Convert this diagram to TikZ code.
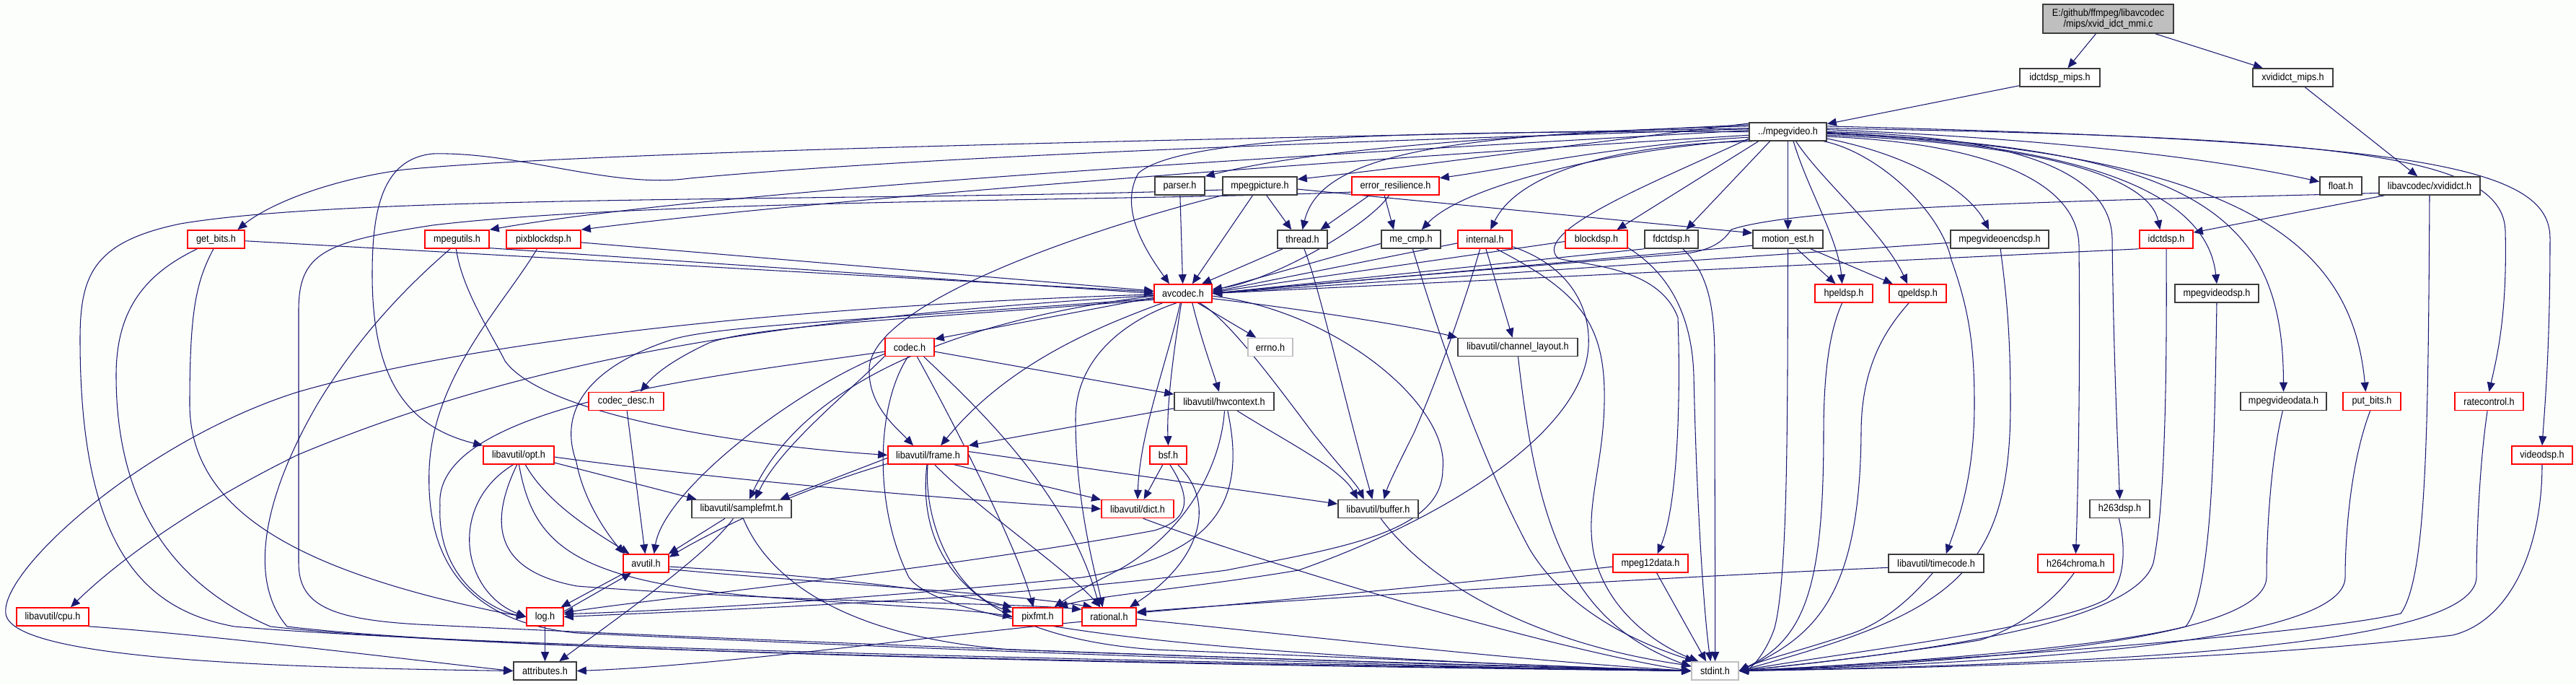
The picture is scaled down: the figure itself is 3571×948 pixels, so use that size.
\documentclass[tikz,border=0pt]{standalone}
\usepackage{fontspec}
\newfontfamily\dxfam{Liberation Sans}[FakeStretch=0.9]
\usetikzlibrary{arrows.meta}
\definecolor{edgec}{RGB}{25,25,112}
\definecolor{redc}{RGB}{255,0,0}
\definecolor{blkc}{RGB}{60,60,60}
\definecolor{gryc}{RGB}{191,191,191}
\definecolor{bgc}{RGB}{252,254,252}
\pgfdeclarelayer{bg}
\pgfsetlayers{bg,main}
\tikzset{
  basebox/.style={draw, line width=0.45pt, fill=white, inner sep=0pt, minimum height=0.25cm, font=\dxfam\fontsize{4}{4.3}\selectfont},
  redbox/.style={basebox, draw=redc},
  blkbox/.style={basebox, draw=blkc},
  grybox/.style={basebox, draw=gryc},
  rootbox/.style={basebox, draw=blkc, fill=gryc, align=center, minimum height=0.40cm},
  edg/.style={draw=edgec, line width=0.3pt, -{Triangle[length=0.13cm,width=0.11cm]}}
}
\begin{document}
\begin{tikzpicture}[x=0.01cm,y=-0.01cm]
\useasboundingbox (0,0) rectangle (3571,948);
% nodes
\node[rootbox, minimum width=1.81cm] (root) at (2922.5,26) {E:/github/ffmpeg/libavcodec\\/mips/xvid\_idct\_mmi.c};
\node[blkbox, minimum width=1.11cm] (idm) at (2855.5,107.5) {idctdsp\_mips.h};
\node[blkbox, minimum width=1.11cm] (xvm) at (3178.5,107.5) {xvididct\_mips.h};
\node[blkbox, minimum width=1.07cm] (mv) at (2478.5,182.5) {../mpegvideo.h};
\node[blkbox, minimum width=0.69cm] (parser) at (1635.5,257.5) {parser.h};
\node[blkbox, minimum width=1.03cm] (mpic) at (1746.5,257.5) {mpegpicture.h};
\node[redbox, minimum width=1.21cm] (er) at (1934.5,257.5) {error\_resilience.h};
\node[blkbox, minimum width=0.58cm] (flt) at (3245,257.5) {float.h};
\node[blkbox, minimum width=1.40cm] (xvi) at (3368,257.5) {libavcodec/xvididct.h};
\node[redbox, minimum width=0.79cm] (gb) at (299.5,331.5) {get\_bits.h};
\node[redbox, minimum width=0.89cm] (mu) at (633.5,331.5) {mpegutils.h};
\node[redbox, minimum width=1.03cm] (pb) at (753.5,331.5) {pixblockdsp.h};
\node[blkbox, minimum width=0.69cm] (th) at (1805.5,331.5) {thread.h};
\node[blkbox, minimum width=0.82cm] (mc) at (1956,331.5) {me\_cmp.h};
\node[redbox, minimum width=0.75cm] (intl) at (2058.5,331.5) {internal.h};
\node[redbox, minimum width=0.86cm] (bd) at (2213,331.5) {blockdsp.h};
\node[blkbox, minimum width=0.74cm] (fd) at (2317,331.5) {fdctdsp.h};
\node[blkbox, minimum width=0.97cm] (me) at (2478.5,331.5) {motion\_est.h};
\node[blkbox, minimum width=1.36cm] (ve) at (2772,331.5) {mpegvideoencdsp.h};
\node[redbox, minimum width=0.74cm] (id) at (3003,331.5) {idctdsp.h};
\node[redbox, minimum width=0.80cm] (ac) at (1640,406.5) {avcodec.h};
\node[redbox, minimum width=0.80cm] (hp) at (2556,406.5) {hpeldsp.h};
\node[redbox, minimum width=0.79cm] (qp) at (2658.5,406.5) {qpeldsp.h};
\node[blkbox, minimum width=1.16cm] (mvd) at (3073,406.5) {mpegvideodsp.h};
\node[redbox, minimum width=0.68cm] (codec) at (1261,481) {codec.h};
\node[grybox, minimum width=0.62cm] (errno) at (1761,481) {errno.h};
\node[blkbox, minimum width=1.66cm] (chl) at (2104,481) {libavutil/channel\_layout.h};
\node[redbox, minimum width=1.04cm] (cdesc) at (868,556) {codec\_desc.h};
\node[blkbox, minimum width=1.38cm] (hw) at (1697,556) {libavutil/hwcontext.h};
\node[blkbox, minimum width=1.19cm] (mvdata) at (3165.5,556) {mpegvideodata.h};
\node[redbox, minimum width=0.80cm] (pbits) at (3288,556) {put\_bits.h};
\node[redbox, minimum width=0.95cm] (rc) at (3450.5,556) {ratecontrol.h};
\node[redbox, minimum width=0.98cm] (opt) at (719,630.5) {libavutil/opt.h};
\node[redbox, minimum width=1.11cm] (frame) at (1286.5,630.5) {libavutil/frame.h};
\node[redbox, minimum width=0.51cm] (bsf) at (1619.5,630.5) {bsf.h};
\node[redbox, minimum width=0.84cm] (vdsp) at (3524,630.5) {videodsp.h};
\node[blkbox, minimum width=1.38cm] (sfmt) at (1028,705) {libavutil/samplefmt.h};
\node[redbox, minimum width=1.00cm] (dict) at (1577,705) {libavutil/dict.h};
\node[blkbox, minimum width=1.11cm] (buf) at (1910.5,705) {libavutil/buffer.h};
\node[blkbox, minimum width=0.83cm] (h263) at (2938.5,705) {h263dsp.h};
\node[redbox, minimum width=0.63cm] (avu) at (895.5,780.5) {avutil.h};
\node[redbox, minimum width=1.04cm] (m12) at (2288,780.5) {mpeg12data.h};
\node[blkbox, minimum width=1.32cm] (tc) at (2684,780.5) {libavutil/timecode.h};
\node[redbox, minimum width=1.05cm] (h264) at (2877.5,780.5) {h264chroma.h};
\node[redbox, minimum width=1.00cm] (cpu) at (73,854.5) {libavutil/cpu.h};
\node[redbox, minimum width=0.51cm] (log) at (755.5,854.5) {log.h};
\node[redbox, minimum width=0.69cm] (pix) at (1438.5,854.5) {pixfmt.h};
\node[redbox, minimum width=0.75cm] (rat) at (1537.5,854.5) {rational.h};
\node[blkbox, minimum width=0.87cm] (attr) at (755.5,929.5) {attributes.h};
\node[grybox, minimum width=0.65cm] (stdint) at (2377.5,929.5) {stdint.h};
\begin{pgfonlayer}{bg}
\fill[bgc] (0,0) rectangle (3571,948);
% top
\draw[edg] (root) -- (idm);
\draw[edg] (root) -- (xvm);
\draw[edg] (idm) -- (mv);
\draw[edg] (xvm) -- (xvi);
% from mpegvideo.h
\draw[edg] (mv.175) .. controls (1500,195) and (800,212) .. (560,235) .. controls (450,250) and (370,285) .. (gb.24);
\draw[edg] (mv.178) .. controls (1800,215) and (1000,262) .. (mu.north east);
\draw[edg] (mv.-175) .. controls (1800,225) and (1100,280) .. (pb.north east);
\draw[edg] (mv.170) .. controls (2000,192) and (1800,212) .. (parser.north east);
\draw[edg] (mv.168) .. controls (2200,198) and (1950,232) .. (mpic.10);
\draw[edg] (mv.-172) .. controls (2250,200) and (2100,232) .. (er.10);
\draw[edg] (mv.172) .. controls (2000,185) and (1830,215) .. (th.north);
\draw[edg] (mv.-168) .. controls (2250,205) and (2030,255) .. (mc.42);
\draw[edg] (mv.-165) .. controls (2280,198) and (2110,228) .. (intl.60);
\draw[edg] (mv.-162) -- (bd.25);
\draw[edg] (mv.-152) -- (fd.33);
\draw[edg] (mv.south) -- (me.north);
\draw[edg] (mv.-10) .. controls (2650,215) and (2730,265) .. (ve.138);
\draw[edg] (mv.-5) .. controls (2850,200) and (2980,250) .. (id.123);
\draw[edg] (mv.-60) .. controls (2505,260) and (2548,330) .. (hp.100);
\draw[edg] (mv.-50) .. controls (2525,250) and (2610,320) .. (qp.137);
\draw[edg] (mv.-3) .. controls (2900,200) and (3060,270) .. (mvd.north);
\draw[edg] (mv.3) .. controls (2800,190) and (3050,215) .. (flt.169);
\draw[edg] (mv.-2) .. controls (3050,205) and (3165,300) .. (mvdata.north);
\draw[edg] (mv.-1) .. controls (3100,212) and (3260,330) .. (pbits.123);
\draw[edg] (mv.5) .. controls (3250,190) and (3470,215) .. (3473,320) .. controls (3476,440) and (3460,500) .. (rc.north);
\draw[edg] (mv.8) .. controls (3350,195) and (3535,230) .. (3535,330) .. controls (3535,480) and (3528,560) .. (vdsp.north);
\draw[edg] (mv.0) .. controls (2800,188) and (2926,240) .. (2928,330) .. controls (2930,500) and (2936,620) .. (h263.north);
\draw[edg] (mv.-7) .. controls (2750,198) and (2880,250) .. (2882,340) .. controls (2884,550) and (2880,700) .. (h264.north);
\draw[edg] (mv.-15) .. controls (2600,210) and (2690,290) .. (2705,360) .. controls (2730,430) and (2737,480) .. (2737,560) .. controls (2737,660) and (2715,720) .. (tc.44);
\draw[edg] (mv.-170) .. controls (2300,250) and (2120,320) .. (2160,358) .. controls (2200,368) and (2300,370) .. (2326,440) .. controls (2330,550) and (2326,700) .. (m12.54);
\draw[edg] (mv.180) .. controls (2000,182) and (1640,185) .. (1578,240) .. controls (1550,290) and (1590,350) .. (ac.145);
\draw[edg] (mv.176) .. controls (1900,195) and (1300,215) .. (956,247) .. controls (850,262) and (720,210) .. (600,213) .. controls (530,220) and (516,290) .. (516,380) .. controls (516,520) and (560,590) .. (opt.north west);
% get_bits.h
\draw[edg] (gb) -- (ac);
\draw[edg] (gb.-105) .. controls (272,390) and (263,430) .. (263,560) .. controls (263,700) and (400,775) .. (600,827) .. controls (660,842) and (700,850) .. (log.west);
\draw[edg] (gb.-153) .. controls (200,380) and (161,430) .. (161,520) .. controls (161,700) and (240,810) .. (375,868) .. controls (700,905) and (1800,922) .. (stdint.west);
% mpegutils.h
\draw[edg] (mu.-15) -- (ac.west);
\draw[edg] (mu.-95) .. controls (640,400) and (680,460) .. (700,500) .. controls (750,570) and (1000,615) .. (frame.west);
\draw[edg] (mu.-125) .. controls (560,400) and (494,470) .. (440,560) .. controls (370,680) and (340,800) .. (398,868) .. controls (700,905) and (1800,924) .. (stdint.west);
% pixblockdsp.h
\draw[edg] (pb) -- (ac);
\draw[edg] (pb.-124) .. controls (700,420) and (600,520) .. (595,650) .. controls (590,780) and (650,862) .. (800,877) .. controls (1400,905) and (2000,925) .. (stdint.west);
% parser.h
\draw[edg] (parser) -- (ac);
% mpegpicture.h
\draw[edg] (mpic.-127) -- (ac.46);
\draw[edg] (mpic.-55) -- (th.139);
\draw[edg] (mpic.-5) -- (me.170);
\draw[edg] (mpic.south west) .. controls (1500,320) and (1210,420) .. (1205,510) .. controls (1203,560) and (1240,590) .. (frame.147);
\draw[edg] (mpic.-174) .. controls (1200,280) and (500,268) .. (250,310) .. controls (130,335) and (111,380) .. (111,470) .. controls (111,760) and (200,845) .. (325,868) .. controls (700,900) and (1800,920) .. (stdint.west);
% error_resilience.h
\draw[edg] (er.-160) -- (th.28);
\draw[edg] (er.-139) -- (mc.151);
\draw[edg] (er.-124) .. controls (1895,315) and (1760,390) .. (ac.8);
\draw[edg] (er.-172) .. controls (1600,278) and (900,276) .. (600,312) .. controls (450,335) and (414,350) .. (414,430) -- (414,780) .. controls (414,840) and (460,860) .. (600,866) .. controls (1200,895) and (2000,922) .. (stdint.west);
% thread.h
\draw[edg] (th.-154) -- (ac.27);
\draw[edg] (th.-80) .. controls (1830,400) and (1865,560) .. (buf.121);
% me_cmp.h
\draw[edg] (mc.-172) -- (ac.5);
\draw[edg] (mc.-80) .. controls (1990,450) and (2050,630) .. (2120,760) .. controls (2180,860) and (2300,900) .. (stdint.155);
% internal.h
\draw[edg] (intl.-172) -- (ac.3);
\draw[edg] (intl.-84) -- (chl.119);
\draw[edg] (intl.-117) .. controls (2030,420) and (1995,520) .. (1960,600) .. controls (1940,640) and (1925,670) .. (buf.59);
\draw[edg] (intl.-15) .. controls (2180,370) and (2205,430) .. (2202,480) .. controls (2195,600) and (2000,720) .. (1800,790) .. controls (1650,815) and (1520,825) .. (pix.25);
\draw[edg] (intl.-40) .. controls (2180,400) and (2222,440) .. (2224,540) .. controls (2226,640) and (2195,700) .. (2210,770) .. controls (2230,850) and (2300,895) .. (stdint.150);
% blockdsp.h
\draw[edg] (bd.-176) -- (ac.2);
\draw[edg] (bd.-15) .. controls (2300,370) and (2345,420) .. (2348,520) .. controls (2352,700) and (2362,850) .. (stdint.115);
% fdctdsp.h
\draw[edg] (fd.south west) -- (ac.east);
\draw[edg] (fd.-40) .. controls (2370,380) and (2377,430) .. (2377,500) .. controls (2377,700) and (2378,850) .. (stdint.north);
% motion_est.h
\draw[edg] (me.-170) -- (ac.east);
\draw[edg] (me.-47) -- (hp.131);
\draw[edg] (me.-23) -- (qp.159);
\draw[edg] (me.south) .. controls (2478,600) and (2478,800) .. (2460,870) .. controls (2450,900) and (2430,925) .. (stdint.east);
% mpegvideoencdsp.h
\draw[edg] (ve.-176) -- (ac.east);
\draw[edg] (ve.-85) .. controls (2780,400) and (2787,450) .. (2787,560) .. controls (2787,800) and (2700,850) .. (stdint.east);
% idctdsp.h
\draw[edg] (id.south west) -- (ac.east);
\draw[edg] (id.south) .. controls (3004,500) and (3002,700) .. (2985,780) .. controls (2960,860) and (2700,900) .. (stdint.east);
% hpeldsp / qpeldsp / others to stdint
\draw[edg] (hp.-100) .. controls (2540,450) and (2528,500) .. (2528,600) .. controls (2528,820) and (2500,885) .. (stdint.east);
\draw[edg] (qp.-133) .. controls (2620,450) and (2580,500) .. (2580,600) .. controls (2578,820) and (2520,880) .. (stdint.east);
\draw[edg] (mvd.south) .. controls (3070,600) and (3068,820) .. (3030,868) .. controls (2900,900) and (2600,920) .. (stdint.east);
\draw[edg] (mvdata.-95) .. controls (3145,650) and (3142,760) .. (3142,800) .. controls (3140,880) and (2800,915) .. (stdint.east);
\draw[edg] (pbits.-100) .. controls (3255,650) and (3251,760) .. (3251,800) .. controls (3250,880) and (2900,915) .. (stdint.east);
\draw[edg] (rc.-100) .. controls (3436,650) and (3433,760) .. (3433,800) .. controls (3430,890) and (3000,918) .. (stdint.east);
\draw[edg] (vdsp.south) .. controls (3524,760) and (3480,860) .. (3400,880) .. controls (3100,915) and (2700,925) .. (stdint.east);
% xvididct.h
\draw[edg] (xvi.-168) -- (id.14);
\draw[edg] (xvi.-172) .. controls (2900,278) and (2500,285) .. (2400,318) .. controls (2388,336) and (2370,348) .. (2330,352) .. controls (2100,370) and (1800,395) .. (ac.east);
\draw[edg] (xvi.south) .. controls (3366,600) and (3364,800) .. (3328,850) .. controls (3200,880) and (2700,915) .. (stdint.east);
% h263 / h264 / timecode / mpeg12data
\draw[edg] (h263.-95) .. controls (2948,760) and (2945,810) .. (2920,830) .. controls (2850,870) and (2550,905) .. (stdint.east);
\draw[edg] (h264.-100) .. controls (2850,830) and (2800,870) .. (2744,887) .. controls (2600,910) and (2480,922) .. (stdint.east);
\draw[edg] (tc.-110) .. controls (2640,840) and (2600,868) .. (2560,880) .. controls (2500,900) and (2440,915) .. (stdint.east);
\draw[edg] (tc.-175) .. controls (2300,800) and (1800,830) .. (rat.10);
\draw[edg] (m12.-175) .. controls (2100,800) and (1800,830) .. (rat.8);
\draw[edg] (m12.-57) -- (stdint.133);
% channel_layout / buffer / dict
\draw[edg] (chl.-88) .. controls (2130,720) and (2170,860) .. (stdint.170);
\draw[edg] (buf.-75) .. controls (1990,820) and (2150,895) .. (stdint.168);
\draw[edg] (dict.-60) .. controls (1750,780) and (2150,900) .. (stdint.west);
% avcodec.h
\draw[edg] (ac.-172) -- (codec.18);
\draw[edg] (ac.-33) -- (errno.146);
\draw[edg] (ac.-10) .. controls (1780,425) and (1950,450) .. (chl.north west);
\draw[edg] (ac.-46) .. controls (1665,470) and (1680,510) .. (hw.118);
\draw[edg] (ac.-100) .. controls (1628,480) and (1617,560) .. (bsf.north);
\draw[edg] (ac.-106) .. controls (1618,500) and (1580,600) .. (dict.north);
\draw[edg] (ac.-155) .. controls (1530,450) and (1400,500) .. (frame.37);
\draw[edg] (ac.-125) .. controls (1570,440) and (1491,490) .. (1491,580) .. controls (1491,700) and (1520,800) .. (rat.124);
\draw[edg] (ac.-30) .. controls (1700,440) and (1760,520) .. (1820,600) .. controls (1860,650) and (1880,670) .. (buf.146);
\draw[edg] (ac.-5) .. controls (1850,430) and (2010,560) .. (2000,650) .. controls (2000,740) and (1850,760) .. (1700,790) .. controls (1400,830) and (1000,845) .. (log.east);
\draw[edg] (ac.-175) .. controls (1350,440) and (1120,520) .. (sfmt.51);
\draw[edg] (ac.-170) .. controls (1250,440) and (1000,450) .. (933,470) .. controls (830,503) and (770,560) .. (799,640) .. controls (810,700) and (850,750) .. (avu.156);
\draw[edg] (ac.-168) .. controls (1300,440) and (1050,450) .. (983,475) .. controls (940,495) and (910,515) .. (cdesc.34);
\draw[edg] (ac.-178) .. controls (1200,420) and (700,460) .. (413,543) .. controls (200,610) and (0,790) .. (8,850) .. controls (15,915) and (400,925) .. (attr.west);
\draw[edg] (ac.-176) .. controls (1100,440) and (750,490) .. (413,630) .. controls (250,710) and (150,790) .. (cpu.28);
% codec.h
\draw[edg] (codec.-10) -- (hw.172);
\draw[edg] (codec.-52) .. controls (1330,600) and (1410,760) .. (pix.114);
\draw[edg] (codec.-34) .. controls (1350,560) and (1480,680) .. (rat.135);
\draw[edg] (codec.-100) .. controls (1215,560) and (1210,700) .. (1260,800) .. controls (1320,880) and (1800,912) .. (stdint.west);
\draw[edg] (codec.-160) .. controls (1180,540) and (1080,620) .. (sfmt.35);
\draw[edg] (codec.-165) .. controls (1100,540) and (920,680) .. (avu.50);
\draw[edg] (codec.-170) .. controls (1000,520) and (600,560) .. (610,700) .. controls (605,800) and (680,845) .. (log.west);
% frame.h
\draw[edg] (frame.5) -- (buf.173);
\draw[edg] (frame.-20) -- (dict.166);
\draw[edg] (frame.-55) .. controls (1350,700) and (1480,790) .. (rat.132);
\draw[edg] (frame.-92) .. controls (1280,720) and (1320,820) .. (pix.170);
\draw[edg] (frame.-97) .. controls (1272,760) and (1330,880) .. (1600,900) .. controls (1900,912) and (2200,925) .. (stdint.west);
\draw[edg] (frame.-176) -- (sfmt.14);
\draw[edg] (frame.-168) .. controls (1100,680) and (980,740) .. (avu.15);
% hwcontext.h
\draw[edg] (hw.-172) -- (frame.north east);
\draw[edg] (hw.-36) .. controls (1780,610) and (1860,650) .. (buf.155);
\draw[edg] (hw.-88) .. controls (1692,650) and (1640,740) .. (1550,790) .. controls (1510,810) and (1485,825) .. (pix.30);
\draw[edg] (hw.-70) .. controls (1730,700) and (1680,770) .. (1500,800) .. controls (1200,830) and (950,845) .. (log.8);
% bsf.h
\draw[edg] (bsf.-120) -- (dict.57);
\draw[edg] (bsf.-45) .. controls (1690,700) and (1660,780) .. (rat.25);
\draw[edg] (bsf.-80) .. controls (1652,690) and (1650,720) .. (1600,735) .. controls (1300,790) and (900,830) .. (log.12);
% opt.h
\draw[edg] (opt.-55) .. controls (760,700) and (830,740) .. (avu.150);
\draw[edg] (opt.-120) .. controls (620,700) and (640,820) .. (log.west);
\draw[edg] (opt.-12) -- (sfmt.168);
\draw[edg] (opt.-3) .. controls (1000,665) and (1300,690) .. (dict.west);
\draw[edg] (opt.-88) .. controls (740,760) and (800,810) .. (1100,830) .. controls (1250,840) and (1350,845) .. (pix.west);
\draw[edg] (opt.-100) .. controls (680,720) and (680,790) .. (800,812) .. controls (1100,835) and (1400,835) .. (rat.165);
% samplefmt.h
\draw[edg] (sfmt.-150) -- (avu.23);
\draw[edg] (sfmt.-131) .. controls (980,770) and (850,860) .. (attr.34);
\draw[edg] (sfmt.-80) .. controls (1060,790) and (1150,880) .. (1400,900) .. controls (1800,915) and (2200,925) .. (stdint.west);
% avutil.h / log.h
\draw[edg] (avu.-156) -- (log.31);
\draw[edg] (log.16) -- (avu.-147);
\draw[edg] (avu.-8) .. controls (1100,795) and (1300,815) .. (pix.160);
\draw[edg] (avu.-14) .. controls (1100,805) and (1400,822) .. (rat.150);
\draw[edg] (log) -- (attr);
% cpu / rational / codec_desc
\draw[edg] (cpu.-15) .. controls (300,880) and (600,918) .. (attr.west);
\draw[edg] (rat.-170) .. controls (1300,880) and (1000,922) .. (attr.east);
\draw[edg] (rat.-5) .. controls (1800,880) and (2100,915) .. (stdint.west);
\draw[edg] (cdesc.-85) -- (avu.95);
\end{pgfonlayer}
\end{tikzpicture}
\end{document}
